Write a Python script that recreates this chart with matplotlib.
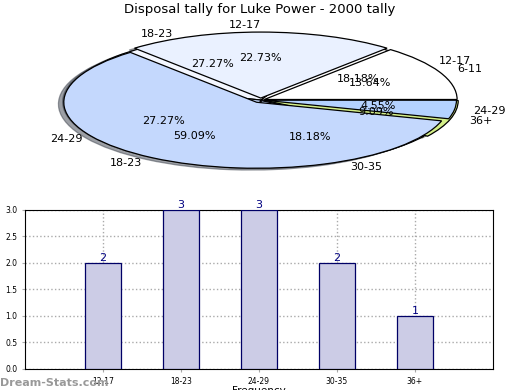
import matplotlib
matplotlib.use("Agg")
import matplotlib.pyplot as plt
import numpy as np

# datos
grupos = ['12-17', '18-23', '24-29', '30-35', '36+']
conteo = [2, 3, 3, 2, 1]

grupos_2 = ['6-11', '12-17', '18-23', '24-29']
conteo_2 = [3, 5, 13, 1]

colores_1 = ['#ffffff', '#f4f7ff', '#c8dcff', '#c8dcff', '#d4ef88']
colores_2 = ['#ffffff', '#eaf1ff', '#c4d8fd', '#b4d2ff']

fig = plt.figure(figsize=(5.2, 3.9), dpi=100)

# Pie (dos tortas superpuestas)
ax1 = fig.add_axes([0.038, 0.532, 0.927, 0.423])
ax1.pie(conteo, labels=grupos, colors=colores_1, autopct='%.2f%%',
        explode=[0, 0, 0, 0.01, 0.025],
        shadow=True, textprops={'fontsize': 8},
        wedgeprops={'edgecolor': 'black', 'linewidth': 0.9})
ax1.pie(conteo_2, labels=grupos_2, colors=colores_2, autopct='%.2f%%',
        explode=[0.02, 0.03, 0.04, 0.015],
        shadow=True, textprops={'fontsize': 8},
        wedgeprops={'edgecolor': 'black', 'linewidth': 0.9})
ax1.set_aspect('auto')
ax1.set_xlim(-1.25, 1.25)
ax1.set_ylim(-1.25, 1.25)
fig.text(0.5, 1 - 10 / 390, "Disposal tally for Luke Power - 2000 tally",
         fontsize=9.5, ha='center', va='center')

# Barras
ax2 = fig.add_axes([0.048, 0.054, 0.9, 0.408])
x = np.arange(len(grupos))
ax2.bar(x, conteo, width=0.46, color='#ccccE6', edgecolor='#000066', linewidth=0.9, zorder=3)
for xi, v in zip(x, conteo):
    ax2.text(xi, v, str(v), ha='center', va='bottom', fontsize=8, color='#000080', zorder=4)
ax2.set_xlim(-1, 5)
ax2.set_ylim(0, 3)
ax2.set_xticks(x)
ax2.set_xticklabels(grupos, fontsize=5.5)
ax2.set_yticks(np.arange(0, 3.01, 0.5))
ax2.set_yticklabels(['%.1f' % t for t in np.arange(0, 3.01, 0.5)], fontsize=5.5)
ax2.tick_params(length=2, color='#aaaaaa')
ax2.grid(True, linestyle=':', color='#aaaaaa', linewidth=1)
ax2.set_xlabel('Frequency', fontsize=7.5, labelpad=0)
ax2.set_ylabel('Stat intervals', fontsize=7.5, labelpad=2)

fig.text(0.0, 0.01, 'Dream-Stats.com', fontsize=8, color='#999999', fontweight='bold')

plt.savefig('out.png', dpi=100)
